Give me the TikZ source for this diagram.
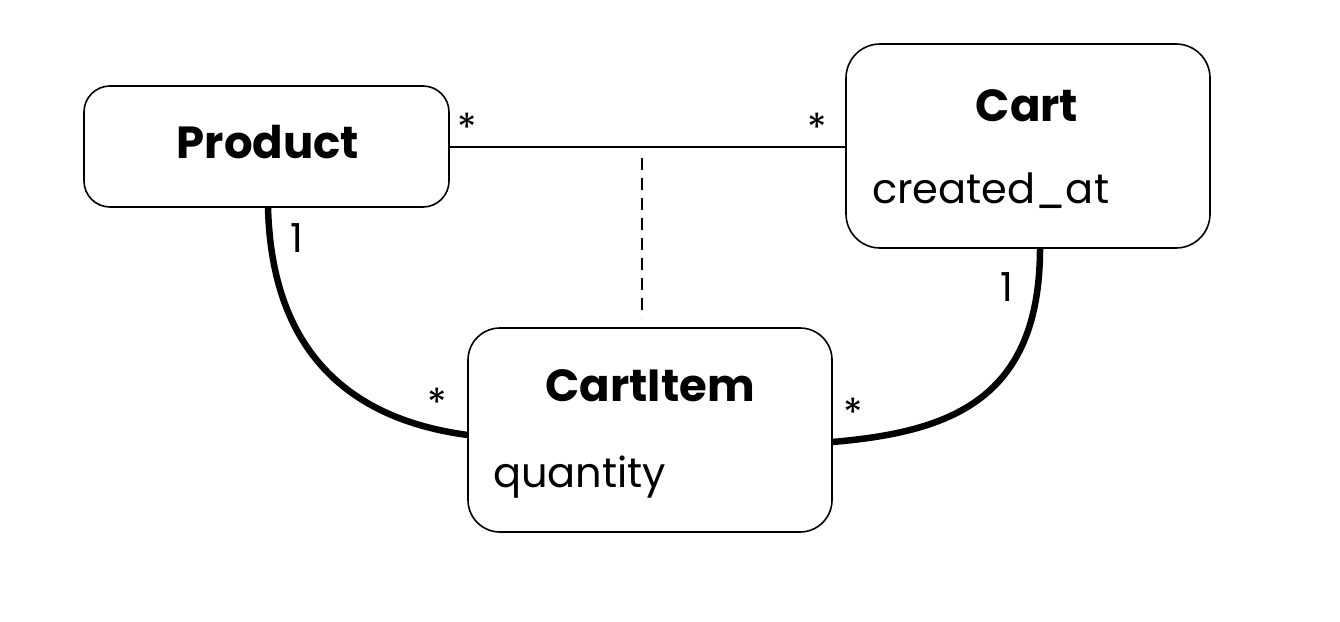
\documentclass[tikz,border=0pt]{standalone}
\usepackage{fontspec}
\setmainfont{Poppins}
\begin{document}
\begin{tikzpicture}[x=1pt,y=-1pt,
  entity/.style={draw=black, line width=1.6pt, rounded corners=#1, fill=white},
  entity/.default=30pt,
  title/.style={font=\fontsize{45}{48}\selectfont\bfseries, inner sep=0pt},
  attr/.style={font=\fontsize{41.5}{44}\selectfont, inner sep=0pt, anchor=base west},
  mult/.style={font=\fontsize{40}{42}\selectfont, inner sep=0pt},
  assoc/.style={line width=1.3pt},
  link/.style={line width=6.5pt},
  linkclass/.style={line width=1.3pt, dash pattern=on 12pt off 8pt}]
  % canvas
  \fill[white] (0,0) rectangle (1340,621);
  \useasboundingbox (0,0) rectangle (1340,621);

  % entity boxes
  \draw[entity=26pt] (84,86) rectangle (449,207);
  \node[inner sep=0pt, minimum width=365pt, minimum height=121pt] (product) at (266.5,146.5) {};
  \draw[entity=34pt] (846,44) rectangle (1210,248);
  \node[inner sep=0pt, minimum width=364pt, minimum height=204pt] (cart) at (1028,146) {};
  \draw[entity=32pt] (468,328) rectangle (832,532);
  \node[inner sep=0pt, minimum width=364pt, minimum height=204pt] (cartitem) at (650,430) {};

  % titles and attributes
  \node[title, anchor=base] (productT) at (268,158) {Product};
  \node[title, anchor=base] (cartT) at (1027,121) {Cart};
  \node[attr] (cartA) at (872,203) {created\_at};
  \node[title, anchor=base] (cartitemT) at (650,401) {CartItem};
  \node[attr] (cartitemA) at (493,487) {quantity};

  % many-to-many association with its association class
  \draw[assoc] (product.east |- 0,147) -- (cart.west |- 0,147);
  \coordinate (assocmid) at (642,158);
  \coordinate (classtop) at (642,318);
  \draw[linkclass] (assocmid) -- (classtop);

  % composite links
  \draw[link] (268,207) .. controls (272,370) and (370,422) .. (cartitem.west |- 0,435);
  \draw[link] (1040,248) .. controls (1040,400) and (950,432) .. (cartitem.east |- 0,442);

  % multiplicities
  \node[mult] (m1) at (467,128) {*};
  \node[mult] (m2) at (817,128) {*};
  \node[mult] (m3) at (297,238) {1};
  \node[mult] (m4) at (437,403) {*};
  \node[mult] (m5) at (1007,287) {1};
  \node[mult] (m6) at (853,413) {*};
\end{tikzpicture}
\end{document}
